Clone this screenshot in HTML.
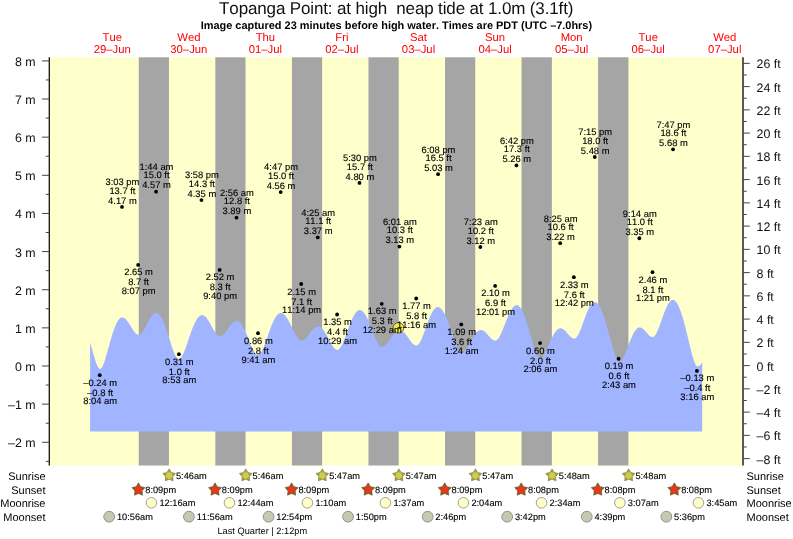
<!DOCTYPE html><html><head><meta charset="utf-8"><style>html,body{margin:0;padding:0;background:#fff;width:793px;height:539px;overflow:hidden}svg{display:block;will-change:transform}text{font-family:"Liberation Sans",sans-serif;text-rendering:geometricPrecision;font-kerning:none}text.k{stroke:#000;stroke-width:0.12px}</style></head><body>
<svg width="793" height="539" viewBox="0 0 793 539">
<rect x="49.3" y="57.3" width="692.90" height="408.20" fill="#FFFFCC"/>
<rect x="138.78" y="57.3" width="30.18" height="408.20" fill="#A5A5A5"/>
<rect x="215.34" y="57.3" width="30.18" height="408.20" fill="#A5A5A5"/>
<rect x="291.90" y="57.3" width="30.23" height="408.20" fill="#A5A5A5"/>
<rect x="368.46" y="57.3" width="30.23" height="408.20" fill="#A5A5A5"/>
<rect x="445.02" y="57.3" width="30.23" height="408.20" fill="#A5A5A5"/>
<rect x="521.53" y="57.3" width="30.34" height="408.20" fill="#A5A5A5"/>
<rect x="598.09" y="57.3" width="30.34" height="408.20" fill="#A5A5A5"/>
<path d="M90.1,431.5 L90.10,342.34 L90.60,344.11 L91.10,345.89 L91.60,347.68 L92.10,349.47 L92.60,351.26 L93.10,353.03 L93.60,354.78 L94.10,356.49 L94.60,358.15 L95.10,359.75 L95.60,361.28 L96.10,362.72 L96.60,364.05 L97.10,365.25 L97.60,366.32 L98.10,367.22 L98.60,367.94 L99.10,368.47 L99.60,368.79 L100.10,368.90 L100.60,368.79 L101.10,368.46 L101.60,367.93 L102.10,367.19 L102.60,366.28 L103.10,365.20 L103.60,363.98 L104.10,362.63 L104.60,361.17 L105.10,359.62 L105.60,358.00 L106.10,356.31 L106.60,354.58 L107.10,352.81 L107.60,351.02 L108.10,349.21 L108.60,347.40 L109.10,345.59 L109.60,343.79 L110.10,342.01 L110.60,340.25 L111.10,338.53 L111.60,336.84 L112.10,335.20 L112.60,333.60 L113.10,332.06 L113.60,330.58 L114.10,329.16 L114.60,327.80 L115.10,326.52 L115.60,325.31 L116.10,324.17 L116.60,323.12 L117.10,322.15 L117.60,321.26 L118.10,320.46 L118.60,319.75 L119.10,319.13 L119.60,318.60 L120.10,318.17 L120.60,317.84 L121.10,317.59 L121.60,317.45 L122.10,317.40 L122.60,317.44 L123.10,317.54 L123.60,317.72 L124.10,317.97 L124.60,318.28 L125.10,318.66 L125.60,319.10 L126.10,319.60 L126.60,320.16 L127.10,320.77 L127.60,321.42 L128.10,322.12 L128.60,322.85 L129.10,323.62 L129.60,324.41 L130.10,325.22 L130.60,326.03 L131.10,326.86 L131.60,327.68 L132.10,328.48 L132.60,329.27 L133.10,330.04 L133.60,330.77 L134.10,331.46 L134.60,332.10 L135.10,332.69 L135.60,333.21 L136.10,333.67 L136.60,334.06 L137.10,334.37 L137.60,334.59 L138.10,334.74 L138.60,334.80 L139.10,334.77 L139.60,334.64 L140.10,334.41 L140.60,334.08 L141.10,333.67 L141.60,333.16 L142.10,332.58 L142.60,331.91 L143.10,331.18 L143.60,330.39 L144.10,329.55 L144.60,328.66 L145.10,327.73 L145.60,326.78 L146.10,325.81 L146.60,324.82 L147.10,323.84 L147.60,322.86 L148.10,321.89 L148.60,320.94 L149.10,320.01 L149.60,319.13 L150.10,318.28 L150.60,317.47 L151.10,316.72 L151.60,316.03 L152.10,315.39 L152.60,314.82 L153.10,314.32 L153.60,313.89 L154.10,313.54 L154.60,313.26 L155.10,313.06 L155.60,312.94 L156.10,312.90 L156.60,312.94 L157.10,313.07 L157.60,313.29 L158.10,313.59 L158.60,313.98 L159.10,314.45 L159.60,315.00 L160.10,315.63 L160.60,316.34 L161.10,317.13 L161.60,318.00 L162.10,318.94 L162.60,319.95 L163.10,321.02 L163.60,322.16 L164.10,323.37 L164.60,324.63 L165.10,325.94 L165.60,327.31 L166.10,328.72 L166.60,330.17 L167.10,331.65 L167.60,333.17 L168.10,334.72 L168.60,336.28 L169.10,337.85 L169.60,339.44 L170.10,341.02 L170.60,342.59 L171.10,344.15 L171.60,345.68 L172.10,347.18 L172.60,348.64 L173.10,350.04 L173.60,351.39 L174.10,352.65 L174.60,353.84 L175.10,354.92 L175.60,355.90 L176.10,356.77 L176.60,357.50 L177.10,358.10 L177.60,358.55 L178.10,358.84 L178.60,358.99 L179.10,358.97 L179.60,358.82 L180.10,358.52 L180.60,358.09 L181.10,357.52 L181.60,356.84 L182.10,356.03 L182.60,355.12 L183.10,354.12 L183.60,353.02 L184.10,351.85 L184.60,350.61 L185.10,349.31 L185.60,347.96 L186.10,346.57 L186.60,345.15 L187.10,343.70 L187.60,342.24 L188.10,340.77 L188.60,339.29 L189.10,337.82 L189.60,336.36 L190.10,334.91 L190.60,333.49 L191.10,332.09 L191.60,330.72 L192.10,329.39 L192.60,328.09 L193.10,326.84 L193.60,325.64 L194.10,324.49 L194.60,323.40 L195.10,322.36 L195.60,321.38 L196.10,320.46 L196.60,319.62 L197.10,318.83 L197.60,318.12 L198.10,317.48 L198.60,316.92 L199.10,316.43 L199.60,316.01 L200.10,315.67 L200.60,315.41 L201.10,315.23 L201.60,315.13 L202.10,315.10 L202.60,315.15 L203.10,315.28 L203.60,315.47 L204.10,315.74 L204.60,316.07 L205.10,316.47 L205.60,316.94 L206.10,317.47 L206.60,318.06 L207.10,318.70 L207.60,319.40 L208.10,320.14 L208.60,320.93 L209.10,321.75 L209.60,322.60 L210.10,323.49 L210.60,324.39 L211.10,325.30 L211.60,326.23 L212.10,327.15 L212.60,328.06 L213.10,328.97 L213.60,329.85 L214.10,330.70 L214.60,331.52 L215.10,332.29 L215.60,333.02 L216.10,333.68 L216.60,334.28 L217.10,334.82 L217.60,335.27 L218.10,335.65 L218.60,335.95 L219.10,336.15 L219.60,336.27 L220.10,336.30 L220.60,336.25 L221.10,336.12 L221.60,335.92 L222.10,335.65 L222.60,335.31 L223.10,334.90 L223.60,334.44 L224.10,333.93 L224.60,333.36 L225.10,332.75 L225.60,332.11 L226.10,331.43 L226.60,330.74 L227.10,330.02 L227.60,329.30 L228.10,328.57 L228.60,327.84 L229.10,327.13 L229.60,326.43 L230.10,325.75 L230.60,325.10 L231.10,324.48 L231.60,323.90 L232.10,323.36 L232.60,322.86 L233.10,322.42 L233.60,322.02 L234.10,321.68 L234.60,321.40 L235.10,321.19 L235.60,321.03 L236.10,320.93 L236.60,320.90 L237.10,320.94 L237.60,321.05 L238.10,321.24 L238.60,321.50 L239.10,321.84 L239.60,322.25 L240.10,322.73 L240.60,323.28 L241.10,323.90 L241.60,324.59 L242.10,325.33 L242.60,326.14 L243.10,327.01 L243.60,327.93 L244.10,328.91 L244.60,329.93 L245.10,331.00 L245.60,332.10 L246.10,333.25 L246.60,334.42 L247.10,335.62 L247.60,336.84 L248.10,338.07 L248.60,339.31 L249.10,340.56 L249.60,341.80 L250.10,343.03 L250.60,344.25 L251.10,345.43 L251.60,346.59 L252.10,347.70 L252.60,348.77 L253.10,349.77 L253.60,350.72 L254.10,351.58 L254.60,352.37 L255.10,353.06 L255.60,353.66 L256.10,354.15 L256.60,354.54 L257.10,354.81 L257.60,354.96 L258.10,355.00 L258.60,354.90 L259.10,354.67 L259.60,354.31 L260.10,353.81 L260.60,353.20 L261.10,352.47 L261.60,351.63 L262.10,350.70 L262.60,349.67 L263.10,348.56 L263.60,347.38 L264.10,346.14 L264.60,344.84 L265.10,343.50 L265.60,342.12 L266.10,340.71 L266.60,339.29 L267.10,337.85 L267.60,336.41 L268.10,334.96 L268.60,333.53 L269.10,332.10 L269.60,330.70 L270.10,329.33 L270.60,327.98 L271.10,326.67 L271.60,325.39 L272.10,324.17 L272.60,322.99 L273.10,321.86 L273.60,320.79 L274.10,319.77 L274.60,318.82 L275.10,317.93 L275.60,317.11 L276.10,316.36 L276.60,315.68 L277.10,315.07 L277.60,314.54 L278.10,314.09 L278.60,313.71 L279.10,313.41 L279.60,313.20 L280.10,313.06 L280.60,313.00 L281.10,313.02 L281.60,313.11 L282.10,313.27 L282.60,313.49 L283.10,313.78 L283.60,314.13 L284.10,314.55 L284.60,315.03 L285.10,315.57 L285.60,316.16 L286.10,316.82 L286.60,317.52 L287.10,318.28 L287.60,319.08 L288.10,319.92 L288.60,320.80 L289.10,321.72 L289.60,322.67 L290.10,323.65 L290.60,324.64 L291.10,325.66 L291.60,326.68 L292.10,327.71 L292.60,328.74 L293.10,329.77 L293.60,330.78 L294.10,331.78 L294.60,332.75 L295.10,333.69 L295.60,334.59 L296.10,335.45 L296.60,336.27 L297.10,337.02 L297.60,337.72 L298.10,338.35 L298.60,338.90 L299.10,339.38 L299.60,339.78 L300.10,340.09 L300.60,340.32 L301.10,340.45 L301.60,340.50 L302.10,340.47 L302.60,340.36 L303.10,340.19 L303.60,339.95 L304.10,339.65 L304.60,339.29 L305.10,338.87 L305.60,338.40 L306.10,337.89 L306.60,337.33 L307.10,336.74 L307.60,336.13 L308.10,335.49 L308.60,334.83 L309.10,334.16 L309.60,333.49 L310.10,332.82 L310.60,332.16 L311.10,331.52 L311.60,330.89 L312.10,330.29 L312.60,329.72 L313.10,329.18 L313.60,328.68 L314.10,328.22 L314.60,327.80 L315.10,327.44 L315.60,327.13 L316.10,326.87 L316.60,326.66 L317.10,326.52 L317.60,326.43 L318.10,326.40 L318.60,326.43 L319.10,326.53 L319.60,326.70 L320.10,326.94 L320.60,327.24 L321.10,327.60 L321.60,328.02 L322.10,328.51 L322.60,329.05 L323.10,329.65 L323.60,330.30 L324.10,331.00 L324.60,331.75 L325.10,332.53 L325.60,333.36 L326.10,334.22 L326.60,335.10 L327.10,336.01 L327.60,336.94 L328.10,337.88 L328.60,338.83 L329.10,339.78 L329.60,340.73 L330.10,341.66 L330.60,342.57 L331.10,343.46 L331.60,344.32 L332.10,345.14 L332.60,345.91 L333.10,346.63 L333.60,347.29 L334.10,347.88 L334.60,348.40 L335.10,348.85 L335.60,349.21 L336.10,349.49 L336.60,349.68 L337.10,349.78 L337.60,349.79 L338.10,349.68 L338.60,349.44 L339.10,349.07 L339.60,348.59 L340.10,348.00 L340.60,347.29 L341.10,346.49 L341.60,345.59 L342.10,344.61 L342.60,343.55 L343.10,342.42 L343.60,341.23 L344.10,339.99 L344.60,338.70 L345.10,337.38 L345.60,336.04 L346.10,334.67 L346.60,333.29 L347.10,331.90 L347.60,330.52 L348.10,329.14 L348.60,327.78 L349.10,326.44 L349.60,325.12 L350.10,323.83 L350.60,322.58 L351.10,321.37 L351.60,320.20 L352.10,319.08 L352.60,318.01 L353.10,317.00 L353.60,316.05 L354.10,315.16 L354.60,314.33 L355.10,313.57 L355.60,312.89 L356.10,312.27 L356.60,311.73 L357.10,311.26 L357.60,310.87 L358.10,310.56 L358.60,310.33 L359.10,310.18 L359.60,310.11 L360.10,310.11 L360.60,310.20 L361.10,310.36 L361.60,310.60 L362.10,310.92 L362.60,311.30 L363.10,311.77 L363.60,312.30 L364.10,312.91 L364.60,313.58 L365.10,314.33 L365.60,315.13 L366.10,316.00 L366.60,316.92 L367.10,317.90 L367.60,318.93 L368.10,320.01 L368.60,321.13 L369.10,322.29 L369.60,323.49 L370.10,324.71 L370.60,325.97 L371.10,327.24 L371.60,328.52 L372.10,329.82 L372.60,331.11 L373.10,332.40 L373.60,333.68 L374.10,334.95 L374.60,336.18 L375.10,337.39 L375.60,338.55 L376.10,339.67 L376.60,340.73 L377.10,341.72 L377.60,342.65 L378.10,343.49 L378.60,344.25 L379.10,344.92 L379.60,345.49 L380.10,345.95 L380.60,346.31 L381.10,346.55 L381.60,346.68 L382.10,346.69 L382.60,346.63 L383.10,346.50 L383.60,346.31 L384.10,346.05 L384.60,345.73 L385.10,345.35 L385.60,344.92 L386.10,344.43 L386.60,343.90 L387.10,343.34 L387.60,342.73 L388.10,342.10 L388.60,341.44 L389.10,340.76 L389.60,340.07 L390.10,339.37 L390.60,338.67 L391.10,337.97 L391.60,337.27 L392.10,336.60 L392.60,335.93 L393.10,335.29 L393.60,334.68 L394.10,334.10 L394.60,333.55 L395.10,333.03 L395.60,332.56 L396.10,332.13 L396.60,331.75 L397.10,331.42 L397.60,331.13 L398.10,330.90 L398.60,330.72 L399.10,330.59 L399.60,330.52 L400.10,330.50 L400.60,330.55 L401.10,330.65 L401.60,330.82 L402.10,331.06 L402.60,331.35 L403.10,331.69 L403.60,332.10 L404.10,332.55 L404.60,333.06 L405.10,333.61 L405.60,334.19 L406.10,334.82 L406.60,335.47 L407.10,336.15 L407.60,336.85 L408.10,337.57 L408.60,338.29 L409.10,339.01 L409.60,339.73 L410.10,340.43 L410.60,341.11 L411.10,341.77 L411.60,342.39 L412.10,342.97 L412.60,343.50 L413.10,343.99 L413.60,344.41 L414.10,344.77 L414.60,345.06 L415.10,345.28 L415.60,345.42 L416.10,345.49 L416.60,345.48 L417.10,345.33 L417.60,345.06 L418.10,344.67 L418.60,344.15 L419.10,343.52 L419.60,342.78 L420.10,341.94 L420.60,341.01 L421.10,339.99 L421.60,338.89 L422.10,337.73 L422.60,336.50 L423.10,335.23 L423.60,333.91 L424.10,332.57 L424.60,331.20 L425.10,329.81 L425.60,328.41 L426.10,327.01 L426.60,325.62 L427.10,324.25 L427.60,322.89 L428.10,321.56 L428.60,320.26 L429.10,318.99 L429.60,317.77 L430.10,316.60 L430.60,315.48 L431.10,314.41 L431.60,313.41 L432.10,312.47 L432.60,311.60 L433.10,310.79 L433.60,310.06 L434.10,309.41 L434.60,308.84 L435.10,308.34 L435.60,307.93 L436.10,307.59 L436.60,307.35 L437.10,307.18 L437.60,307.11 L438.10,307.11 L438.60,307.20 L439.10,307.36 L439.60,307.60 L440.10,307.91 L440.60,308.30 L441.10,308.76 L441.60,309.29 L442.10,309.90 L442.60,310.58 L443.10,311.32 L443.60,312.13 L444.10,313.01 L444.60,313.94 L445.10,314.94 L445.60,316.00 L446.10,317.10 L446.60,318.26 L447.10,319.47 L447.60,320.72 L448.10,322.01 L448.60,323.34 L449.10,324.70 L449.60,326.09 L450.10,327.51 L450.60,328.94 L451.10,330.38 L451.60,331.84 L452.10,333.29 L452.60,334.74 L453.10,336.18 L453.60,337.61 L454.10,339.01 L454.60,340.38 L455.10,341.71 L455.60,343.00 L456.10,344.23 L456.60,345.40 L457.10,346.50 L457.60,347.52 L458.10,348.45 L458.60,349.29 L459.10,350.03 L459.60,350.66 L460.10,351.17 L460.60,351.57 L461.10,351.83 L461.60,351.98 L462.10,351.99 L462.60,351.91 L463.10,351.75 L463.60,351.49 L464.10,351.16 L464.60,350.74 L465.10,350.25 L465.60,349.69 L466.10,349.06 L466.60,348.38 L467.10,347.65 L467.60,346.87 L468.10,346.05 L468.60,345.20 L469.10,344.33 L469.60,343.44 L470.10,342.53 L470.60,341.63 L471.10,340.72 L471.60,339.82 L472.10,338.94 L472.60,338.07 L473.10,337.23 L473.60,336.41 L474.10,335.63 L474.60,334.88 L475.10,334.18 L475.60,333.52 L476.10,332.91 L476.60,332.36 L477.10,331.85 L477.60,331.40 L478.10,331.02 L478.60,330.69 L479.10,330.42 L479.60,330.22 L480.10,330.08 L480.60,330.01 L481.10,330.00 L481.60,330.06 L482.10,330.17 L482.60,330.34 L483.10,330.56 L483.60,330.84 L484.10,331.17 L484.60,331.55 L485.10,331.97 L485.60,332.43 L486.10,332.92 L486.60,333.45 L487.10,333.99 L487.60,334.56 L488.10,335.13 L488.60,335.71 L489.10,336.28 L489.60,336.85 L490.10,337.39 L490.60,337.92 L491.10,338.41 L491.60,338.87 L492.10,339.28 L492.60,339.65 L493.10,339.96 L493.60,340.22 L494.10,340.41 L494.60,340.53 L495.10,340.59 L495.60,340.58 L496.10,340.45 L496.60,340.21 L497.10,339.85 L497.60,339.38 L498.10,338.81 L498.60,338.14 L499.10,337.38 L499.60,336.52 L500.10,335.59 L500.60,334.59 L501.10,333.52 L501.60,332.40 L502.10,331.23 L502.60,330.01 L503.10,328.77 L503.60,327.50 L504.10,326.21 L504.60,324.92 L505.10,323.62 L505.60,322.32 L506.10,321.04 L506.60,319.77 L507.10,318.53 L507.60,317.31 L508.10,316.13 L508.60,314.99 L509.10,313.89 L509.60,312.84 L510.10,311.85 L510.60,310.91 L511.10,310.03 L511.60,309.22 L512.10,308.47 L512.60,307.79 L513.10,307.18 L513.60,306.65 L514.10,306.19 L514.60,305.82 L515.10,305.52 L515.60,305.30 L516.10,305.16 L516.60,305.10 L517.10,305.13 L517.60,305.25 L518.10,305.46 L518.60,305.77 L519.10,306.17 L519.60,306.66 L520.10,307.23 L520.60,307.90 L521.10,308.65 L521.60,309.49 L522.10,310.41 L522.60,311.41 L523.10,312.48 L523.60,313.63 L524.10,314.86 L524.60,316.15 L525.10,317.51 L525.60,318.93 L526.10,320.41 L526.60,321.94 L527.10,323.52 L527.60,325.14 L528.10,326.80 L528.60,328.50 L529.10,330.22 L529.60,331.97 L530.10,333.73 L530.60,335.50 L531.10,337.27 L531.60,339.04 L532.10,340.78 L532.60,342.51 L533.10,344.20 L533.60,345.85 L534.10,347.44 L534.60,348.97 L535.10,350.42 L535.60,351.78 L536.10,353.05 L536.60,354.19 L537.10,355.22 L537.60,356.10 L538.10,356.83 L538.60,357.41 L539.10,357.81 L539.60,358.04 L540.10,358.10 L540.60,358.02 L541.10,357.83 L541.60,357.52 L542.10,357.12 L542.60,356.61 L543.10,356.00 L543.60,355.31 L544.10,354.54 L544.60,353.69 L545.10,352.78 L545.60,351.81 L546.10,350.79 L546.60,349.74 L547.10,348.65 L547.60,347.53 L548.10,346.40 L548.60,345.26 L549.10,344.12 L549.60,342.98 L550.10,341.85 L550.60,340.74 L551.10,339.65 L551.60,338.59 L552.10,337.56 L552.60,336.56 L553.10,335.61 L553.60,334.70 L554.10,333.84 L554.60,333.03 L555.10,332.27 L555.60,331.58 L556.10,330.95 L556.60,330.38 L557.10,329.87 L557.60,329.44 L558.10,329.07 L558.60,328.77 L559.10,328.55 L559.60,328.39 L560.10,328.31 L560.60,328.30 L561.10,328.36 L561.60,328.48 L562.10,328.65 L562.60,328.89 L563.10,329.18 L563.60,329.52 L564.10,329.92 L564.60,330.35 L565.10,330.83 L565.60,331.34 L566.10,331.87 L566.60,332.43 L567.10,333.00 L567.60,333.58 L568.10,334.17 L568.60,334.74 L569.10,335.30 L569.60,335.83 L570.10,336.34 L570.60,336.81 L571.10,337.24 L571.60,337.62 L572.10,337.94 L572.60,338.20 L573.10,338.40 L573.60,338.53 L574.10,338.59 L574.60,338.58 L575.10,338.43 L575.60,338.16 L576.10,337.76 L576.60,337.23 L577.10,336.59 L577.60,335.84 L578.10,334.99 L578.60,334.04 L579.10,333.00 L579.60,331.89 L580.10,330.71 L580.60,329.47 L581.10,328.18 L581.60,326.85 L582.10,325.49 L582.60,324.11 L583.10,322.72 L583.60,321.32 L584.10,319.93 L584.60,318.55 L585.10,317.18 L585.60,315.85 L586.10,314.54 L586.60,313.28 L587.10,312.06 L587.60,310.89 L588.10,309.78 L588.60,308.73 L589.10,307.75 L589.60,306.84 L590.10,306.00 L590.60,305.23 L591.10,304.55 L591.60,303.95 L592.10,303.44 L592.60,303.01 L593.10,302.67 L593.60,302.42 L594.10,302.27 L594.60,302.20 L595.10,302.23 L595.60,302.35 L596.10,302.55 L596.60,302.85 L597.10,303.24 L597.60,303.71 L598.10,304.27 L598.60,304.92 L599.10,305.65 L599.60,306.46 L600.10,307.36 L600.60,308.33 L601.10,309.39 L601.60,310.52 L602.10,311.72 L602.60,312.99 L603.10,314.33 L603.60,315.73 L604.10,317.20 L604.60,318.72 L605.10,320.30 L605.60,321.93 L606.10,323.60 L606.60,325.32 L607.10,327.07 L607.60,328.86 L608.10,330.67 L608.60,332.51 L609.10,334.36 L609.60,336.22 L610.10,338.09 L610.60,339.95 L611.10,341.80 L611.60,343.63 L612.10,345.43 L612.60,347.19 L613.10,348.91 L613.60,350.57 L614.10,352.16 L614.60,353.67 L615.10,355.08 L615.60,356.39 L616.10,357.58 L616.60,358.63 L617.10,359.54 L617.60,360.29 L618.10,360.86 L618.60,361.26 L619.10,361.47 L619.60,361.49 L620.10,361.36 L620.60,361.10 L621.10,360.71 L621.60,360.19 L622.10,359.55 L622.60,358.80 L623.10,357.95 L623.60,357.01 L624.10,355.98 L624.60,354.89 L625.10,353.74 L625.60,352.53 L626.10,351.29 L626.60,350.02 L627.10,348.72 L627.60,347.42 L628.10,346.11 L628.60,344.80 L629.10,343.50 L629.60,342.22 L630.10,340.96 L630.60,339.73 L631.10,338.53 L631.60,337.38 L632.10,336.27 L632.60,335.21 L633.10,334.21 L633.60,333.26 L634.10,332.37 L634.60,331.55 L635.10,330.79 L635.60,330.11 L636.10,329.50 L636.60,328.96 L637.10,328.50 L637.60,328.12 L638.10,327.82 L638.60,327.60 L639.10,327.46 L639.60,327.40 L640.10,327.42 L640.60,327.51 L641.10,327.67 L641.60,327.89 L642.10,328.18 L642.60,328.52 L643.10,328.92 L643.60,329.37 L644.10,329.86 L644.60,330.39 L645.10,330.95 L645.60,331.52 L646.10,332.11 L646.60,332.71 L647.10,333.30 L647.60,333.87 L648.10,334.43 L648.60,334.95 L649.10,335.43 L649.60,335.86 L650.10,336.24 L650.60,336.55 L651.10,336.80 L651.60,336.98 L652.10,337.08 L652.60,337.10 L653.10,337.00 L653.60,336.78 L654.10,336.42 L654.60,335.94 L655.10,335.33 L655.60,334.61 L656.10,333.78 L656.60,332.85 L657.10,331.83 L657.60,330.73 L658.10,329.55 L658.60,328.31 L659.10,327.02 L659.60,325.68 L660.10,324.31 L660.60,322.91 L661.10,321.49 L661.60,320.07 L662.10,318.65 L662.60,317.23 L663.10,315.84 L663.60,314.46 L664.10,313.12 L664.60,311.81 L665.10,310.55 L665.60,309.34 L666.10,308.18 L666.60,307.09 L667.10,306.06 L667.60,305.09 L668.10,304.21 L668.60,303.40 L669.10,302.67 L669.60,302.02 L670.10,301.46 L670.60,300.99 L671.10,300.61 L671.60,300.32 L672.10,300.12 L672.60,300.02 L673.10,300.01 L673.60,300.10 L674.10,300.28 L674.60,300.56 L675.10,300.94 L675.60,301.42 L676.10,301.99 L676.60,302.65 L677.10,303.40 L677.60,304.25 L678.10,305.19 L678.60,306.21 L679.10,307.32 L679.60,308.51 L680.10,309.79 L680.60,311.14 L681.10,312.57 L681.60,314.07 L682.10,315.64 L682.60,317.27 L683.10,318.97 L683.60,320.73 L684.10,322.54 L684.60,324.41 L685.10,326.32 L685.60,328.27 L686.10,330.26 L686.60,332.28 L687.10,334.32 L687.60,336.38 L688.10,338.46 L688.60,340.54 L689.10,342.62 L689.60,344.69 L690.10,346.74 L690.60,348.76 L691.10,350.75 L691.60,352.68 L692.10,354.56 L692.60,356.36 L693.10,358.06 L693.60,359.67 L694.10,361.14 L694.60,362.48 L695.10,363.65 L695.60,364.65 L696.10,365.44 L696.60,366.03 L697.10,366.38 L697.60,366.50 L698.10,366.45 L698.60,366.29 L699.10,366.02 L699.60,365.65 L700.10,365.19 L700.60,364.64 L701.10,364.00 L701.60,363.28 L702.10,362.49 L702.2,362.32 L702.2,431.5 Z" fill="#A0B4FF"/>
<line x1="49.3" y1="57.3" x2="49.3" y2="465.5" stroke="#111" stroke-width="1.3"/>
<line x1="743.0" y1="57.3" x2="743.0" y2="465.5" stroke="#222" stroke-width="1.5"/>
<line x1="42" y1="442.28" x2="49.3" y2="442.28" stroke="#444" stroke-width="1"/>
<text x="35.6" y="447.28" font-size="12.4" text-anchor="end" fill="#111">–2 m</text>
<line x1="42" y1="404.14" x2="49.3" y2="404.14" stroke="#444" stroke-width="1"/>
<text x="35.6" y="409.14" font-size="12.4" text-anchor="end" fill="#111">–1 m</text>
<line x1="42" y1="366.00" x2="49.3" y2="366.00" stroke="#444" stroke-width="1"/>
<text x="35.6" y="371.00" font-size="12.4" text-anchor="end" fill="#111">0 m</text>
<line x1="42" y1="327.86" x2="49.3" y2="327.86" stroke="#444" stroke-width="1"/>
<text x="35.6" y="332.86" font-size="12.4" text-anchor="end" fill="#111">1 m</text>
<line x1="42" y1="289.72" x2="49.3" y2="289.72" stroke="#444" stroke-width="1"/>
<text x="35.6" y="294.72" font-size="12.4" text-anchor="end" fill="#111">2 m</text>
<line x1="42" y1="251.58" x2="49.3" y2="251.58" stroke="#444" stroke-width="1"/>
<text x="35.6" y="256.58" font-size="12.4" text-anchor="end" fill="#111">3 m</text>
<line x1="42" y1="213.44" x2="49.3" y2="213.44" stroke="#444" stroke-width="1"/>
<text x="35.6" y="218.44" font-size="12.4" text-anchor="end" fill="#111">4 m</text>
<line x1="42" y1="175.30" x2="49.3" y2="175.30" stroke="#444" stroke-width="1"/>
<text x="35.6" y="180.30" font-size="12.4" text-anchor="end" fill="#111">5 m</text>
<line x1="42" y1="137.16" x2="49.3" y2="137.16" stroke="#444" stroke-width="1"/>
<text x="35.6" y="142.16" font-size="12.4" text-anchor="end" fill="#111">6 m</text>
<line x1="42" y1="99.02" x2="49.3" y2="99.02" stroke="#444" stroke-width="1"/>
<text x="35.6" y="104.02" font-size="12.4" text-anchor="end" fill="#111">7 m</text>
<line x1="42" y1="60.88" x2="49.3" y2="60.88" stroke="#444" stroke-width="1"/>
<text x="35.6" y="65.88" font-size="12.4" text-anchor="end" fill="#111">8 m</text>
<line x1="45.8" y1="461.35" x2="49.3" y2="461.35" stroke="#444" stroke-width="1"/>
<line x1="45.8" y1="423.21" x2="49.3" y2="423.21" stroke="#444" stroke-width="1"/>
<line x1="45.8" y1="385.07" x2="49.3" y2="385.07" stroke="#444" stroke-width="1"/>
<line x1="45.8" y1="346.93" x2="49.3" y2="346.93" stroke="#444" stroke-width="1"/>
<line x1="45.8" y1="308.79" x2="49.3" y2="308.79" stroke="#444" stroke-width="1"/>
<line x1="45.8" y1="270.65" x2="49.3" y2="270.65" stroke="#444" stroke-width="1"/>
<line x1="45.8" y1="232.51" x2="49.3" y2="232.51" stroke="#444" stroke-width="1"/>
<line x1="45.8" y1="194.37" x2="49.3" y2="194.37" stroke="#444" stroke-width="1"/>
<line x1="45.8" y1="156.23" x2="49.3" y2="156.23" stroke="#444" stroke-width="1"/>
<line x1="45.8" y1="118.09" x2="49.3" y2="118.09" stroke="#444" stroke-width="1"/>
<line x1="45.8" y1="79.95" x2="49.3" y2="79.95" stroke="#444" stroke-width="1"/>
<line x1="743.0" y1="458.60" x2="749.8" y2="458.60" stroke="#444" stroke-width="1"/>
<text x="756.6" y="463.60" font-size="12.4" fill="#111">–8 ft</text>
<line x1="743.0" y1="446.98" x2="746.8" y2="446.98" stroke="#444" stroke-width="1"/>
<line x1="743.0" y1="435.35" x2="749.8" y2="435.35" stroke="#444" stroke-width="1"/>
<text x="756.6" y="440.35" font-size="12.4" fill="#111">–6 ft</text>
<line x1="743.0" y1="423.73" x2="746.8" y2="423.73" stroke="#444" stroke-width="1"/>
<line x1="743.0" y1="412.10" x2="749.8" y2="412.10" stroke="#444" stroke-width="1"/>
<text x="756.6" y="417.10" font-size="12.4" fill="#111">–4 ft</text>
<line x1="743.0" y1="400.48" x2="746.8" y2="400.48" stroke="#444" stroke-width="1"/>
<line x1="743.0" y1="388.85" x2="749.8" y2="388.85" stroke="#444" stroke-width="1"/>
<text x="756.6" y="393.85" font-size="12.4" fill="#111">–2 ft</text>
<line x1="743.0" y1="377.23" x2="746.8" y2="377.23" stroke="#444" stroke-width="1"/>
<line x1="743.0" y1="365.60" x2="749.8" y2="365.60" stroke="#444" stroke-width="1"/>
<text x="756.6" y="370.60" font-size="12.4" fill="#111">0 ft</text>
<line x1="743.0" y1="353.97" x2="746.8" y2="353.97" stroke="#444" stroke-width="1"/>
<line x1="743.0" y1="342.35" x2="749.8" y2="342.35" stroke="#444" stroke-width="1"/>
<text x="756.6" y="347.35" font-size="12.4" fill="#111">2 ft</text>
<line x1="743.0" y1="330.72" x2="746.8" y2="330.72" stroke="#444" stroke-width="1"/>
<line x1="743.0" y1="319.10" x2="749.8" y2="319.10" stroke="#444" stroke-width="1"/>
<text x="756.6" y="324.10" font-size="12.4" fill="#111">4 ft</text>
<line x1="743.0" y1="307.47" x2="746.8" y2="307.47" stroke="#444" stroke-width="1"/>
<line x1="743.0" y1="295.85" x2="749.8" y2="295.85" stroke="#444" stroke-width="1"/>
<text x="756.6" y="300.85" font-size="12.4" fill="#111">6 ft</text>
<line x1="743.0" y1="284.22" x2="746.8" y2="284.22" stroke="#444" stroke-width="1"/>
<line x1="743.0" y1="272.60" x2="749.8" y2="272.60" stroke="#444" stroke-width="1"/>
<text x="756.6" y="277.60" font-size="12.4" fill="#111">8 ft</text>
<line x1="743.0" y1="260.97" x2="746.8" y2="260.97" stroke="#444" stroke-width="1"/>
<line x1="743.0" y1="249.35" x2="749.8" y2="249.35" stroke="#444" stroke-width="1"/>
<text x="756.6" y="254.35" font-size="12.4" fill="#111">10 ft</text>
<line x1="743.0" y1="237.72" x2="746.8" y2="237.72" stroke="#444" stroke-width="1"/>
<line x1="743.0" y1="226.10" x2="749.8" y2="226.10" stroke="#444" stroke-width="1"/>
<text x="756.6" y="231.10" font-size="12.4" fill="#111">12 ft</text>
<line x1="743.0" y1="214.47" x2="746.8" y2="214.47" stroke="#444" stroke-width="1"/>
<line x1="743.0" y1="202.85" x2="749.8" y2="202.85" stroke="#444" stroke-width="1"/>
<text x="756.6" y="207.85" font-size="12.4" fill="#111">14 ft</text>
<line x1="743.0" y1="191.22" x2="746.8" y2="191.22" stroke="#444" stroke-width="1"/>
<line x1="743.0" y1="179.60" x2="749.8" y2="179.60" stroke="#444" stroke-width="1"/>
<text x="756.6" y="184.60" font-size="12.4" fill="#111">16 ft</text>
<line x1="743.0" y1="167.97" x2="746.8" y2="167.97" stroke="#444" stroke-width="1"/>
<line x1="743.0" y1="156.35" x2="749.8" y2="156.35" stroke="#444" stroke-width="1"/>
<text x="756.6" y="161.35" font-size="12.4" fill="#111">18 ft</text>
<line x1="743.0" y1="144.72" x2="746.8" y2="144.72" stroke="#444" stroke-width="1"/>
<line x1="743.0" y1="133.10" x2="749.8" y2="133.10" stroke="#444" stroke-width="1"/>
<text x="756.6" y="138.10" font-size="12.4" fill="#111">20 ft</text>
<line x1="743.0" y1="121.47" x2="746.8" y2="121.47" stroke="#444" stroke-width="1"/>
<line x1="743.0" y1="109.85" x2="749.8" y2="109.85" stroke="#444" stroke-width="1"/>
<text x="756.6" y="114.85" font-size="12.4" fill="#111">22 ft</text>
<line x1="743.0" y1="98.22" x2="746.8" y2="98.22" stroke="#444" stroke-width="1"/>
<line x1="743.0" y1="86.60" x2="749.8" y2="86.60" stroke="#444" stroke-width="1"/>
<text x="756.6" y="91.60" font-size="12.4" fill="#111">24 ft</text>
<line x1="743.0" y1="74.97" x2="746.8" y2="74.97" stroke="#444" stroke-width="1"/>
<line x1="743.0" y1="63.35" x2="749.8" y2="63.35" stroke="#444" stroke-width="1"/>
<text x="756.6" y="68.35" font-size="12.4" fill="#111">26 ft</text>
<text x="396.2" y="13.9" font-size="17" letter-spacing="-0.14" text-anchor="middle" fill="#111">Topanga Point: at high&#160; neap tide at 1.0m (3.1ft)</text>
<text x="396.4" y="28.8" font-size="10.94" font-weight="bold" text-anchor="middle" fill="#000">Image captured 23 minutes before high water. Times are PDT (UTC –7.0hrs)</text>
<text x="112.28" y="41.1" font-size="11.3" text-anchor="middle" fill="#FF0000">Tue</text>
<text x="112.28" y="52.8" font-size="11.3" text-anchor="middle" fill="#FF0000">29–Jun</text>
<text x="188.84" y="41.1" font-size="11.3" text-anchor="middle" fill="#FF0000">Wed</text>
<text x="188.84" y="52.8" font-size="11.3" text-anchor="middle" fill="#FF0000">30–Jun</text>
<text x="265.40" y="41.1" font-size="11.3" text-anchor="middle" fill="#FF0000">Thu</text>
<text x="265.40" y="52.8" font-size="11.3" text-anchor="middle" fill="#FF0000">01–Jul</text>
<text x="341.96" y="41.1" font-size="11.3" text-anchor="middle" fill="#FF0000">Fri</text>
<text x="341.96" y="52.8" font-size="11.3" text-anchor="middle" fill="#FF0000">02–Jul</text>
<text x="418.52" y="41.1" font-size="11.3" text-anchor="middle" fill="#FF0000">Sat</text>
<text x="418.52" y="52.8" font-size="11.3" text-anchor="middle" fill="#FF0000">03–Jul</text>
<text x="495.08" y="41.1" font-size="11.3" text-anchor="middle" fill="#FF0000">Sun</text>
<text x="495.08" y="52.8" font-size="11.3" text-anchor="middle" fill="#FF0000">04–Jul</text>
<text x="571.64" y="41.1" font-size="11.3" text-anchor="middle" fill="#FF0000">Mon</text>
<text x="571.64" y="52.8" font-size="11.3" text-anchor="middle" fill="#FF0000">05–Jul</text>
<text x="648.20" y="41.1" font-size="11.3" text-anchor="middle" fill="#FF0000">Tue</text>
<text x="648.20" y="52.8" font-size="11.3" text-anchor="middle" fill="#FF0000">06–Jul</text>
<text x="724.76" y="41.1" font-size="11.3" text-anchor="middle" fill="#FF0000">Wed</text>
<text x="724.76" y="52.8" font-size="11.3" text-anchor="middle" fill="#FF0000">07–Jul</text>
<circle cx="398.5" cy="327.8" r="5.3" fill="#F0EC3C" stroke="#5A5A20" stroke-width="0.9"/>
<circle cx="99.73" cy="375.15" r="1.9" fill="#000"/>
<text class="k" x="100.13" y="385.65" font-size="9.4" text-anchor="middle" fill="#000">–0.24 m</text>
<text class="k" x="100.13" y="395.65" font-size="9.4" text-anchor="middle" fill="#000">–0.8 ft</text>
<text class="k" x="100.13" y="404.45" font-size="9.4" text-anchor="middle" fill="#000">8:04 am</text>
<circle cx="122.01" cy="206.96" r="1.9" fill="#000"/>
<text class="k" x="122.41" y="185.36" font-size="9.4" text-anchor="middle" fill="#000">3:03 pm</text>
<text class="k" x="122.41" y="193.66" font-size="9.4" text-anchor="middle" fill="#000">13.7 ft</text>
<text class="k" x="122.41" y="203.66" font-size="9.4" text-anchor="middle" fill="#000">4.17 m</text>
<circle cx="138.17" cy="264.93" r="1.9" fill="#000"/>
<text class="k" x="138.57" y="275.43" font-size="9.4" text-anchor="middle" fill="#000">2.65 m</text>
<text class="k" x="138.57" y="285.43" font-size="9.4" text-anchor="middle" fill="#000">8.7 ft</text>
<text class="k" x="138.57" y="294.23" font-size="9.4" text-anchor="middle" fill="#000">8:07 pm</text>
<circle cx="156.09" cy="191.70" r="1.9" fill="#000"/>
<text class="k" x="156.49" y="170.10" font-size="9.4" text-anchor="middle" fill="#000">1:44 am</text>
<text class="k" x="156.49" y="178.40" font-size="9.4" text-anchor="middle" fill="#000">15.0 ft</text>
<text class="k" x="156.49" y="188.40" font-size="9.4" text-anchor="middle" fill="#000">4.57 m</text>
<circle cx="178.90" cy="354.18" r="1.9" fill="#000"/>
<text class="k" x="179.30" y="364.68" font-size="9.4" text-anchor="middle" fill="#000">0.31 m</text>
<text class="k" x="179.30" y="374.68" font-size="9.4" text-anchor="middle" fill="#000">1.0 ft</text>
<text class="k" x="179.30" y="383.48" font-size="9.4" text-anchor="middle" fill="#000">8:53 am</text>
<circle cx="201.49" cy="200.09" r="1.9" fill="#000"/>
<text class="k" x="201.89" y="178.49" font-size="9.4" text-anchor="middle" fill="#000">3:58 pm</text>
<text class="k" x="201.89" y="186.79" font-size="9.4" text-anchor="middle" fill="#000">14.3 ft</text>
<text class="k" x="201.89" y="196.79" font-size="9.4" text-anchor="middle" fill="#000">4.35 m</text>
<circle cx="219.68" cy="269.89" r="1.9" fill="#000"/>
<text class="k" x="220.08" y="280.39" font-size="9.4" text-anchor="middle" fill="#000">2.52 m</text>
<text class="k" x="220.08" y="290.39" font-size="9.4" text-anchor="middle" fill="#000">8.3 ft</text>
<text class="k" x="220.08" y="299.19" font-size="9.4" text-anchor="middle" fill="#000">9:40 pm</text>
<circle cx="236.48" cy="217.64" r="1.9" fill="#000"/>
<text class="k" x="236.88" y="196.04" font-size="9.4" text-anchor="middle" fill="#000">2:56 am</text>
<text class="k" x="236.88" y="204.34" font-size="9.4" text-anchor="middle" fill="#000">12.8 ft</text>
<text class="k" x="236.88" y="214.34" font-size="9.4" text-anchor="middle" fill="#000">3.89 m</text>
<circle cx="258.01" cy="333.20" r="1.9" fill="#000"/>
<text class="k" x="258.41" y="343.70" font-size="9.4" text-anchor="middle" fill="#000">0.86 m</text>
<text class="k" x="258.41" y="353.70" font-size="9.4" text-anchor="middle" fill="#000">2.8 ft</text>
<text class="k" x="258.41" y="362.50" font-size="9.4" text-anchor="middle" fill="#000">9:41 am</text>
<circle cx="280.66" cy="192.08" r="1.9" fill="#000"/>
<text class="k" x="281.06" y="170.48" font-size="9.4" text-anchor="middle" fill="#000">4:47 pm</text>
<text class="k" x="281.06" y="178.78" font-size="9.4" text-anchor="middle" fill="#000">15.0 ft</text>
<text class="k" x="281.06" y="188.78" font-size="9.4" text-anchor="middle" fill="#000">4.56 m</text>
<circle cx="301.23" cy="284.00" r="1.9" fill="#000"/>
<text class="k" x="301.63" y="294.50" font-size="9.4" text-anchor="middle" fill="#000">2.15 m</text>
<text class="k" x="301.63" y="304.50" font-size="9.4" text-anchor="middle" fill="#000">7.1 ft</text>
<text class="k" x="301.63" y="313.30" font-size="9.4" text-anchor="middle" fill="#000">11:14 pm</text>
<circle cx="317.77" cy="237.47" r="1.9" fill="#000"/>
<text class="k" x="318.17" y="215.87" font-size="9.4" text-anchor="middle" fill="#000">4:25 am</text>
<text class="k" x="318.17" y="224.17" font-size="9.4" text-anchor="middle" fill="#000">11.1 ft</text>
<text class="k" x="318.17" y="234.17" font-size="9.4" text-anchor="middle" fill="#000">3.37 m</text>
<circle cx="337.12" cy="314.51" r="1.9" fill="#000"/>
<text class="k" x="337.52" y="325.01" font-size="9.4" text-anchor="middle" fill="#000">1.35 m</text>
<text class="k" x="337.52" y="335.01" font-size="9.4" text-anchor="middle" fill="#000">4.4 ft</text>
<text class="k" x="337.52" y="343.81" font-size="9.4" text-anchor="middle" fill="#000">10:29 am</text>
<circle cx="359.50" cy="182.93" r="1.9" fill="#000"/>
<text class="k" x="359.90" y="161.33" font-size="9.4" text-anchor="middle" fill="#000">5:30 pm</text>
<text class="k" x="359.90" y="169.63" font-size="9.4" text-anchor="middle" fill="#000">15.7 ft</text>
<text class="k" x="359.90" y="179.63" font-size="9.4" text-anchor="middle" fill="#000">4.80 m</text>
<circle cx="381.78" cy="303.83" r="1.9" fill="#000"/>
<text class="k" x="382.18" y="314.33" font-size="9.4" text-anchor="middle" fill="#000">1.63 m</text>
<text class="k" x="382.18" y="324.33" font-size="9.4" text-anchor="middle" fill="#000">5.3 ft</text>
<text class="k" x="382.18" y="333.13" font-size="9.4" text-anchor="middle" fill="#000">12:29 am</text>
<circle cx="399.43" cy="246.62" r="1.9" fill="#000"/>
<text class="k" x="399.83" y="225.02" font-size="9.4" text-anchor="middle" fill="#000">6:01 am</text>
<text class="k" x="399.83" y="233.32" font-size="9.4" text-anchor="middle" fill="#000">10.3 ft</text>
<text class="k" x="399.83" y="243.32" font-size="9.4" text-anchor="middle" fill="#000">3.13 m</text>
<circle cx="416.18" cy="298.49" r="1.9" fill="#000"/>
<text class="k" x="416.58" y="308.99" font-size="9.4" text-anchor="middle" fill="#000">1.77 m</text>
<text class="k" x="416.58" y="318.99" font-size="9.4" text-anchor="middle" fill="#000">5.8 ft</text>
<text class="k" x="416.58" y="327.79" font-size="9.4" text-anchor="middle" fill="#000">11:16 am</text>
<circle cx="438.09" cy="174.16" r="1.9" fill="#000"/>
<text class="k" x="438.49" y="152.56" font-size="9.4" text-anchor="middle" fill="#000">6:08 pm</text>
<text class="k" x="438.49" y="160.86" font-size="9.4" text-anchor="middle" fill="#000">16.5 ft</text>
<text class="k" x="438.49" y="170.86" font-size="9.4" text-anchor="middle" fill="#000">5.03 m</text>
<circle cx="461.27" cy="324.43" r="1.9" fill="#000"/>
<text class="k" x="461.67" y="334.93" font-size="9.4" text-anchor="middle" fill="#000">1.09 m</text>
<text class="k" x="461.67" y="344.93" font-size="9.4" text-anchor="middle" fill="#000">3.6 ft</text>
<text class="k" x="461.67" y="353.73" font-size="9.4" text-anchor="middle" fill="#000">1:24 am</text>
<circle cx="480.35" cy="247.00" r="1.9" fill="#000"/>
<text class="k" x="480.75" y="225.40" font-size="9.4" text-anchor="middle" fill="#000">7:23 am</text>
<text class="k" x="480.75" y="233.70" font-size="9.4" text-anchor="middle" fill="#000">10.2 ft</text>
<text class="k" x="480.75" y="243.70" font-size="9.4" text-anchor="middle" fill="#000">3.12 m</text>
<circle cx="495.13" cy="285.91" r="1.9" fill="#000"/>
<text class="k" x="495.53" y="296.41" font-size="9.4" text-anchor="middle" fill="#000">2.10 m</text>
<text class="k" x="495.53" y="306.41" font-size="9.4" text-anchor="middle" fill="#000">6.9 ft</text>
<text class="k" x="495.53" y="315.21" font-size="9.4" text-anchor="middle" fill="#000">12:01 pm</text>
<circle cx="516.45" cy="165.38" r="1.9" fill="#000"/>
<text class="k" x="516.85" y="143.78" font-size="9.4" text-anchor="middle" fill="#000">6:42 pm</text>
<text class="k" x="516.85" y="152.08" font-size="9.4" text-anchor="middle" fill="#000">17.3 ft</text>
<text class="k" x="516.85" y="162.08" font-size="9.4" text-anchor="middle" fill="#000">5.26 m</text>
<circle cx="540.06" cy="343.12" r="1.9" fill="#000"/>
<text class="k" x="540.46" y="353.62" font-size="9.4" text-anchor="middle" fill="#000">0.60 m</text>
<text class="k" x="540.46" y="363.62" font-size="9.4" text-anchor="middle" fill="#000">2.0 ft</text>
<text class="k" x="540.46" y="372.42" font-size="9.4" text-anchor="middle" fill="#000">2:06 am</text>
<circle cx="560.21" cy="243.19" r="1.9" fill="#000"/>
<text class="k" x="560.61" y="221.59" font-size="9.4" text-anchor="middle" fill="#000">8:25 am</text>
<text class="k" x="560.61" y="229.89" font-size="9.4" text-anchor="middle" fill="#000">10.6 ft</text>
<text class="k" x="560.61" y="239.89" font-size="9.4" text-anchor="middle" fill="#000">3.22 m</text>
<circle cx="573.87" cy="277.13" r="1.9" fill="#000"/>
<text class="k" x="574.27" y="287.63" font-size="9.4" text-anchor="middle" fill="#000">2.33 m</text>
<text class="k" x="574.27" y="297.63" font-size="9.4" text-anchor="middle" fill="#000">7.6 ft</text>
<text class="k" x="574.27" y="306.43" font-size="9.4" text-anchor="middle" fill="#000">12:42 pm</text>
<circle cx="594.77" cy="156.99" r="1.9" fill="#000"/>
<text class="k" x="595.17" y="135.39" font-size="9.4" text-anchor="middle" fill="#000">7:15 pm</text>
<text class="k" x="595.17" y="143.69" font-size="9.4" text-anchor="middle" fill="#000">18.0 ft</text>
<text class="k" x="595.17" y="153.69" font-size="9.4" text-anchor="middle" fill="#000">5.48 m</text>
<circle cx="618.59" cy="358.75" r="1.9" fill="#000"/>
<text class="k" x="618.99" y="369.25" font-size="9.4" text-anchor="middle" fill="#000">0.19 m</text>
<text class="k" x="618.99" y="379.25" font-size="9.4" text-anchor="middle" fill="#000">0.6 ft</text>
<text class="k" x="618.99" y="388.05" font-size="9.4" text-anchor="middle" fill="#000">2:43 am</text>
<circle cx="639.37" cy="238.23" r="1.9" fill="#000"/>
<text class="k" x="639.77" y="216.63" font-size="9.4" text-anchor="middle" fill="#000">9:14 am</text>
<text class="k" x="639.77" y="224.93" font-size="9.4" text-anchor="middle" fill="#000">11.0 ft</text>
<text class="k" x="639.77" y="234.93" font-size="9.4" text-anchor="middle" fill="#000">3.35 m</text>
<circle cx="652.51" cy="272.18" r="1.9" fill="#000"/>
<text class="k" x="652.91" y="282.68" font-size="9.4" text-anchor="middle" fill="#000">2.46 m</text>
<text class="k" x="652.91" y="292.68" font-size="9.4" text-anchor="middle" fill="#000">8.1 ft</text>
<text class="k" x="652.91" y="301.48" font-size="9.4" text-anchor="middle" fill="#000">1:21 pm</text>
<circle cx="673.03" cy="149.36" r="1.9" fill="#000"/>
<text class="k" x="673.43" y="127.76" font-size="9.4" text-anchor="middle" fill="#000">7:47 pm</text>
<text class="k" x="673.43" y="136.06" font-size="9.4" text-anchor="middle" fill="#000">18.6 ft</text>
<text class="k" x="673.43" y="146.06" font-size="9.4" text-anchor="middle" fill="#000">5.68 m</text>
<circle cx="696.90" cy="370.96" r="1.9" fill="#000"/>
<text class="k" x="697.30" y="381.46" font-size="9.4" text-anchor="middle" fill="#000">–0.13 m</text>
<text class="k" x="697.30" y="391.46" font-size="9.4" text-anchor="middle" fill="#000">–0.4 ft</text>
<text class="k" x="697.30" y="400.26" font-size="9.4" text-anchor="middle" fill="#000">3:16 am</text>
<text x="45.5" y="480.0" font-size="11" text-anchor="end" fill="#000">Sunrise</text>
<text x="746.5" y="480.0" font-size="11" fill="#000">Sunrise</text>
<text x="45.5" y="493.7" font-size="11" text-anchor="end" fill="#000">Sunset</text>
<text x="746.5" y="493.7" font-size="11" fill="#000">Sunset</text>
<text x="45.5" y="506.9" font-size="11" text-anchor="end" fill="#000">Moonrise</text>
<text x="746.5" y="506.9" font-size="11" fill="#000">Moonrise</text>
<text x="45.5" y="520.7" font-size="11" text-anchor="end" fill="#000">Moonset</text>
<text x="746.5" y="520.7" font-size="11" fill="#000">Moonset</text>
<polygon points="169.16,468.90 171.33,472.51 175.43,473.46 172.67,476.64 173.04,480.84 169.16,479.20 165.28,480.84 165.64,476.64 162.88,473.46 166.98,472.51" fill="#A8A636" stroke="#707030" stroke-width="0.6" stroke-linejoin="miter"/><polygon points="171.33,472.51 172.67,476.64 169.16,479.20 165.64,476.64 166.98,472.51" fill="#CCCC56"/>
<text x="175.96" y="478.9" class="k" font-size="9.25" fill="#000">5:46am</text>
<polygon points="245.72,468.90 247.89,472.51 251.99,473.46 249.23,476.64 249.60,480.84 245.72,479.20 241.84,480.84 242.20,476.64 239.44,473.46 243.54,472.51" fill="#A8A636" stroke="#707030" stroke-width="0.6" stroke-linejoin="miter"/><polygon points="247.89,472.51 249.23,476.64 245.72,479.20 242.20,476.64 243.54,472.51" fill="#CCCC56"/>
<text x="252.52" y="478.9" class="k" font-size="9.25" fill="#000">5:46am</text>
<polygon points="322.33,468.90 324.50,472.51 328.61,473.46 325.85,476.64 326.21,480.84 322.33,479.20 318.45,480.84 318.81,476.64 316.05,473.46 320.15,472.51" fill="#A8A636" stroke="#707030" stroke-width="0.6" stroke-linejoin="miter"/><polygon points="324.50,472.51 325.85,476.64 322.33,479.20 318.81,476.64 320.15,472.51" fill="#CCCC56"/>
<text x="329.13" y="478.9" class="k" font-size="9.25" fill="#000">5:47am</text>
<polygon points="398.89,468.90 401.06,472.51 405.17,473.46 402.41,476.64 402.77,480.84 398.89,479.20 395.01,480.84 395.37,476.64 392.61,473.46 396.71,472.51" fill="#A8A636" stroke="#707030" stroke-width="0.6" stroke-linejoin="miter"/><polygon points="401.06,472.51 402.41,476.64 398.89,479.20 395.37,476.64 396.71,472.51" fill="#CCCC56"/>
<text x="405.69" y="478.9" class="k" font-size="9.25" fill="#000">5:47am</text>
<polygon points="475.45,468.90 477.62,472.51 481.73,473.46 478.97,476.64 479.33,480.84 475.45,479.20 471.57,480.84 471.93,476.64 469.17,473.46 473.27,472.51" fill="#A8A636" stroke="#707030" stroke-width="0.6" stroke-linejoin="miter"/><polygon points="477.62,472.51 478.97,476.64 475.45,479.20 471.93,476.64 473.27,472.51" fill="#CCCC56"/>
<text x="482.25" y="478.9" class="k" font-size="9.25" fill="#000">5:47am</text>
<polygon points="552.06,468.90 554.24,472.51 558.34,473.46 555.58,476.64 555.94,480.84 552.06,479.20 548.18,480.84 548.54,476.64 545.79,473.46 549.89,472.51" fill="#A8A636" stroke="#707030" stroke-width="0.6" stroke-linejoin="miter"/><polygon points="554.24,472.51 555.58,476.64 552.06,479.20 548.54,476.64 549.89,472.51" fill="#CCCC56"/>
<text x="558.86" y="478.9" class="k" font-size="9.25" fill="#000">5:48am</text>
<polygon points="628.62,468.90 630.80,472.51 634.90,473.46 632.14,476.64 632.50,480.84 628.62,479.20 624.74,480.84 625.10,476.64 622.35,473.46 626.45,472.51" fill="#A8A636" stroke="#707030" stroke-width="0.6" stroke-linejoin="miter"/><polygon points="630.80,472.51 632.14,476.64 628.62,479.20 625.10,476.64 626.45,472.51" fill="#CCCC56"/>
<text x="635.42" y="478.9" class="k" font-size="9.25" fill="#000">5:48am</text>
<polygon points="138.48,482.80 140.71,486.63 145.04,487.57 142.09,490.87 142.53,495.28 138.48,493.50 134.42,495.28 134.86,490.87 131.92,487.57 136.24,486.63" fill="#8E5222" stroke="#6A5A28" stroke-width="0.6" stroke-linejoin="miter"/><polygon points="140.77,486.54 142.19,490.91 138.48,493.60 134.77,490.91 136.19,486.54" fill="#E6381E"/><circle cx="138.48" cy="489.7" r="3.6" fill="#E6381E"/>
<text x="145.28" y="493.09999999999997" class="k" font-size="9.25" fill="#000">8:09pm</text>
<polygon points="215.04,482.80 217.27,486.63 221.60,487.57 218.65,490.87 219.09,495.28 215.04,493.50 210.98,495.28 211.42,490.87 208.48,487.57 212.80,486.63" fill="#8E5222" stroke="#6A5A28" stroke-width="0.6" stroke-linejoin="miter"/><polygon points="217.33,486.54 218.75,490.91 215.04,493.60 211.33,490.91 212.75,486.54" fill="#E6381E"/><circle cx="215.04" cy="489.7" r="3.6" fill="#E6381E"/>
<text x="221.84" y="493.09999999999997" class="k" font-size="9.25" fill="#000">8:09pm</text>
<polygon points="291.60,482.80 293.83,486.63 298.16,487.57 295.21,490.87 295.65,495.28 291.60,493.50 287.54,495.28 287.98,490.87 285.04,487.57 289.36,486.63" fill="#8E5222" stroke="#6A5A28" stroke-width="0.6" stroke-linejoin="miter"/><polygon points="293.89,486.54 295.31,490.91 291.60,493.60 287.89,490.91 289.31,486.54" fill="#E6381E"/><circle cx="291.60" cy="489.7" r="3.6" fill="#E6381E"/>
<text x="298.40" y="493.09999999999997" class="k" font-size="9.25" fill="#000">8:09pm</text>
<polygon points="368.16,482.80 370.39,486.63 374.72,487.57 371.77,490.87 372.21,495.28 368.16,493.50 364.10,495.28 364.54,490.87 361.60,487.57 365.92,486.63" fill="#8E5222" stroke="#6A5A28" stroke-width="0.6" stroke-linejoin="miter"/><polygon points="370.45,486.54 371.87,490.91 368.16,493.60 364.45,490.91 365.87,486.54" fill="#E6381E"/><circle cx="368.16" cy="489.7" r="3.6" fill="#E6381E"/>
<text x="374.96" y="493.09999999999997" class="k" font-size="9.25" fill="#000">8:09pm</text>
<polygon points="444.72,482.80 446.95,486.63 451.28,487.57 448.33,490.87 448.77,495.28 444.72,493.50 440.66,495.28 441.10,490.87 438.16,487.57 442.48,486.63" fill="#8E5222" stroke="#6A5A28" stroke-width="0.6" stroke-linejoin="miter"/><polygon points="447.01,486.54 448.43,490.91 444.72,493.60 441.01,490.91 442.43,486.54" fill="#E6381E"/><circle cx="444.72" cy="489.7" r="3.6" fill="#E6381E"/>
<text x="451.52" y="493.09999999999997" class="k" font-size="9.25" fill="#000">8:09pm</text>
<polygon points="521.23,482.80 523.46,486.63 527.79,487.57 524.84,490.87 525.28,495.28 521.23,493.50 517.17,495.28 517.61,490.87 514.66,487.57 518.99,486.63" fill="#8E5222" stroke="#6A5A28" stroke-width="0.6" stroke-linejoin="miter"/><polygon points="523.52,486.54 524.93,490.91 521.23,493.60 517.52,490.91 518.93,486.54" fill="#E6381E"/><circle cx="521.23" cy="489.7" r="3.6" fill="#E6381E"/>
<text x="528.03" y="493.09999999999997" class="k" font-size="9.25" fill="#000">8:08pm</text>
<polygon points="597.79,482.80 600.02,486.63 604.35,487.57 601.40,490.87 601.84,495.28 597.79,493.50 593.73,495.28 594.17,490.87 591.22,487.57 595.55,486.63" fill="#8E5222" stroke="#6A5A28" stroke-width="0.6" stroke-linejoin="miter"/><polygon points="600.08,486.54 601.49,490.91 597.79,493.60 594.08,490.91 595.49,486.54" fill="#E6381E"/><circle cx="597.79" cy="489.7" r="3.6" fill="#E6381E"/>
<text x="604.59" y="493.09999999999997" class="k" font-size="9.25" fill="#000">8:08pm</text>
<polygon points="674.35,482.80 676.58,486.63 680.91,487.57 677.96,490.87 678.40,495.28 674.35,493.50 670.29,495.28 670.73,490.87 667.78,487.57 672.11,486.63" fill="#8E5222" stroke="#6A5A28" stroke-width="0.6" stroke-linejoin="miter"/><polygon points="676.64,486.54 678.05,490.91 674.35,493.60 670.64,490.91 672.05,486.54" fill="#E6381E"/><circle cx="674.35" cy="489.7" r="3.6" fill="#E6381E"/>
<text x="681.15" y="493.09999999999997" class="k" font-size="9.25" fill="#000">8:08pm</text>
<circle cx="151.41" cy="502.8" r="5.3" fill="#FFFFC8" stroke="#A0A090" stroke-width="1"/>
<text x="159.41" y="506.2" class="k" font-size="9.25" fill="#000">12:16am</text>
<circle cx="229.46" cy="502.8" r="5.3" fill="#FFFFC8" stroke="#A0A090" stroke-width="1"/>
<text x="237.46" y="506.2" class="k" font-size="9.25" fill="#000">12:44am</text>
<circle cx="307.40" cy="502.8" r="5.3" fill="#FFFFC8" stroke="#A0A090" stroke-width="1"/>
<text x="315.40" y="506.2" class="k" font-size="9.25" fill="#000">1:10am</text>
<circle cx="385.40" cy="502.8" r="5.3" fill="#FFFFC8" stroke="#A0A090" stroke-width="1"/>
<text x="393.40" y="506.2" class="k" font-size="9.25" fill="#000">1:37am</text>
<circle cx="463.39" cy="502.8" r="5.3" fill="#FFFFC8" stroke="#A0A090" stroke-width="1"/>
<text x="471.39" y="506.2" class="k" font-size="9.25" fill="#000">2:04am</text>
<circle cx="541.55" cy="502.8" r="5.3" fill="#FFFFC8" stroke="#A0A090" stroke-width="1"/>
<text x="549.55" y="506.2" class="k" font-size="9.25" fill="#000">2:34am</text>
<circle cx="619.86" cy="502.8" r="5.3" fill="#FFFFC8" stroke="#A0A090" stroke-width="1"/>
<text x="627.86" y="506.2" class="k" font-size="9.25" fill="#000">3:07am</text>
<circle cx="698.44" cy="502.8" r="5.3" fill="#FFFFC8" stroke="#A0A090" stroke-width="1"/>
<text x="706.44" y="506.2" class="k" font-size="9.25" fill="#000">3:45am</text>
<circle cx="109.18" cy="516.7" r="5.4" fill="#C8C8B0" stroke="#909088" stroke-width="1"/>
<text x="116.88" y="519.9" class="k" font-size="9.25" fill="#000">10:56am</text>
<circle cx="188.93" cy="516.7" r="5.4" fill="#C8C8B0" stroke="#909088" stroke-width="1"/>
<text x="196.63" y="519.9" class="k" font-size="9.25" fill="#000">11:56am</text>
<circle cx="268.57" cy="516.7" r="5.4" fill="#C8C8B0" stroke="#909088" stroke-width="1"/>
<text x="276.27" y="519.9" class="k" font-size="9.25" fill="#000">12:54pm</text>
<circle cx="348.11" cy="516.7" r="5.4" fill="#C8C8B0" stroke="#909088" stroke-width="1"/>
<text x="355.81" y="519.9" class="k" font-size="9.25" fill="#000">1:50pm</text>
<circle cx="427.65" cy="516.7" r="5.4" fill="#C8C8B0" stroke="#909088" stroke-width="1"/>
<text x="435.35" y="519.9" class="k" font-size="9.25" fill="#000">2:46pm</text>
<circle cx="507.18" cy="516.7" r="5.4" fill="#C8C8B0" stroke="#909088" stroke-width="1"/>
<text x="514.88" y="519.9" class="k" font-size="9.25" fill="#000">3:42pm</text>
<circle cx="586.77" cy="516.7" r="5.4" fill="#C8C8B0" stroke="#909088" stroke-width="1"/>
<text x="594.47" y="519.9" class="k" font-size="9.25" fill="#000">4:39pm</text>
<circle cx="666.36" cy="516.7" r="5.4" fill="#C8C8B0" stroke="#909088" stroke-width="1"/>
<text x="674.06" y="519.9" class="k" font-size="9.25" fill="#000">5:36pm</text>
<text x="262.3" y="534.2" font-size="9.25" text-anchor="middle" fill="#000">Last Quarter | 2:12pm</text>
</svg></body></html>
